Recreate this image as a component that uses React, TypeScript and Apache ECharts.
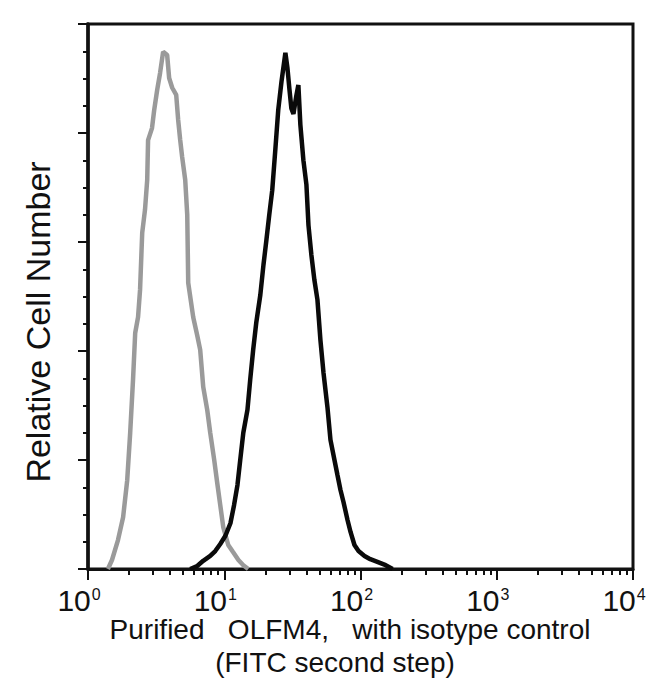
import React, { useEffect, useRef } from "react";
import * as echarts from "echarts";

// Fluorescence intensity (FITC) and relative cell number (% of max)
const isotypeX = [1.40, 1.50, 1.66, 1.81, 1.94, 2.04, 2.14, 2.22, 2.33, 2.41, 2.50, 2.62, 2.72, 2.76, 2.95, 3.06, 3.22, 3.38, 3.56, 3.81, 3.94, 4.15, 4.44, 4.59, 4.75, 4.91, 5.17, 5.35, 5.44, 5.92, 6.33, 6.66, 7.01, 7.50, 7.89, 8.44, 8.88, 9.35, 9.83, 10.7, 11.6, 12.7, 13.8, 15.0];
const isotypeY = [0, 1.65, 5.3, 9.5, 16.3, 25.0, 34.7, 43.3, 46.2, 51.2, 61.7, 65.9, 71.4, 78.7, 80.9, 84.2, 87.9, 91.0, 94.9, 94.3, 90.1, 88.3, 87.0, 82.4, 78.7, 75.6, 71.4, 65.0, 52.5, 46.2, 42.9, 40.2, 33.4, 29.2, 25.0, 20.0, 15.8, 11.7, 7.7, 4.4, 3.1, 1.65, 0.7, 0];

const olfm4X = [5.62, 6.33, 7.01, 7.89, 8.59, 9.35, 10.2, 11.1, 11.8, 12.5, 13.1, 13.8, 14.8, 15.5, 16.3, 17.2, 18.4, 19.4, 20.4, 21.4, 22.5, 23.7, 24.9, 26.3, 28.1, 29.1, 30.1, 31.1, 32.2, 33.8, 35.0, 36.2, 38.1, 40.1, 41.5, 43.6, 45.9, 48.3, 50.8, 53.5, 57.2, 60.2, 64.4, 67.8, 71.3, 75.0, 80.3, 84.5, 90.3, 96.7, 107, 118, 133, 153, 172];
const olfm4Y = [0, 0.55, 1.5, 2.4, 3.3, 4.6, 6.1, 8.4, 11.7, 15.4, 20.0, 25.0, 29.2, 34.7, 40.2, 45.3, 50.3, 55.8, 60.4, 65.0, 69.5, 76.9, 84.2, 89.4, 94.7, 91.9, 88.0, 84.5, 83.5, 86.8, 88.8, 81.5, 75.0, 70.5, 63.1, 57.6, 53.0, 49.4, 42.0, 36.0, 29.7, 23.7, 20.0, 17.2, 14.5, 12.3, 9.0, 6.8, 4.4, 3.3, 2.4, 1.8, 1.3, 0.7, 0];

const xDecades = [1, 10, 100, 1000, 10000];
const xExponents = ["0", "1", "2", "3", "4"];
const xMinorTicks = [
  2, 3, 4, 5, 6, 7, 8, 9,
  20, 30, 40, 50, 60, 70, 80, 90,
  200, 300, 400, 500, 600, 700, 800, 900,
  2000, 3000, 4000, 5000, 6000, 7000, 8000, 9000,
];

const xTitle1 = "Purified   OLFM4,   with isotype control";
const xTitle2 = "(FITC second step)";
const yTitle = "Relative Cell Number";

export default function App() {
  const ref = useRef<HTMLDivElement>(null);

  useEffect(() => {
    if (!ref.current) return;
    const chart = echarts.init(ref.current, undefined, { renderer: "svg" });
    const zip = (xs: number[], ys: number[]) => xs.map((x, i) => [x, ys[i]]);
    const font = "'Liberation Sans', Arial, Helvetica, sans-serif";
    const narrow = "'Liberation Sans Narrow', 'Arial Narrow', 'Liberation Sans', Arial, sans-serif";

    chart.setOption({
      animation: false,
      backgroundColor: "#ffffff",
      grid: {
        left: 88,
        top: 24,
        right: 17,
        bottom: 118,
        show: true,
        borderColor: "#111",
        borderWidth: 3,
        backgroundColor: "transparent",
      },
      xAxis: [
        {
          type: "log",
          logBase: 10,
          min: 1,
          max: 10000,
          position: "bottom",
          axisLine: { show: true, onZero: false, lineStyle: { color: "#111", width: 3 } },
          axisTick: { show: true, customValues: xDecades, length: 11, lineStyle: { color: "#111", width: 2 } },
          axisLabel: {
            show: true,
            customValues: xDecades,
            margin: 16,
            padding: [0, 18, 0, 0],
            formatter: (v: number) => {
              const e = xExponents[Math.round(Math.log10(v))];
              return `{b|10}{s|${e}}`;
            },
            rich: {
              b: {
                fontFamily: narrow,
                fontSize: 30,
                lineHeight: 30,
                color: "#111",
              },
              s: {
                fontFamily: narrow,
                fontSize: 16,
                lineHeight: 16,
                verticalAlign: "top",
                color: "#111",
                padding: [1, 0, 0, 1],
              },
            },
          },
          splitLine: { show: false },
        },
        {
          type: "log",
          logBase: 10,
          min: 1,
          max: 10000,
          position: "bottom",
          axisLine: { show: false },
          axisTick: { show: true, customValues: xMinorTicks, length: 6, lineStyle: { color: "#111", width: 2 } },
          axisLabel: { show: false },
          splitLine: { show: false },
        },
      ],
      yAxis: {
        type: "value",
        min: 0,
        max: 100,
        interval: 20,
        axisLine: { show: true, onZero: false, lineStyle: { color: "#111", width: 3.5 } },
        axisTick: { show: true, length: 10, lineStyle: { color: "#111", width: 2 } },
        minorTick: { show: true, splitNumber: 4, length: 5, lineStyle: { color: "#111", width: 2 } },
        axisLabel: { show: false },
        splitLine: { show: false },
        minorSplitLine: { show: false },
      },
      series: [
        {
          name: "Isotype control",
          type: "line",
          xAxisIndex: 0,
          data: zip(isotypeX, isotypeY),
          showSymbol: false,
          symbol: "none",
          lineStyle: { color: "#9a9a9a", width: 4.5 },
          z: 2,
        },
        {
          name: "Purified OLFM4",
          type: "line",
          xAxisIndex: 0,
          data: zip(olfm4X, olfm4Y),
          showSymbol: false,
          symbol: "none",
          lineStyle: { color: "#0a0a0a", width: 4.5 },
          z: 3,
        },
      ],
      graphic: [
        {
          type: "text",
          x: 38,
          y: 322,
          rotation: Math.PI / 2,
          style: {
            text: yTitle,
            font: `34px ${font}`,
            fill: "#111",
            align: "center",
            verticalAlign: "middle",
          },
        },
        {
          type: "text",
          x: 350,
          y: 629,
          style: {
            text: xTitle1,
            font: `28px ${font}`,
            fill: "#111",
            align: "center",
            verticalAlign: "middle",
          },
        },
        {
          type: "text",
          x: 335,
          y: 662,
          style: {
            text: xTitle2,
            font: `28px ${font}`,
            fill: "#111",
            align: "center",
            verticalAlign: "middle",
          },
        },
      ],
    });

    return () => chart.dispose();
  }, []);

  return (
    <div
      ref={ref}
      style={{ position: "fixed", left: 0, top: 0, width: 650, height: 687, background: "#fff" }}
    />
  );
}
